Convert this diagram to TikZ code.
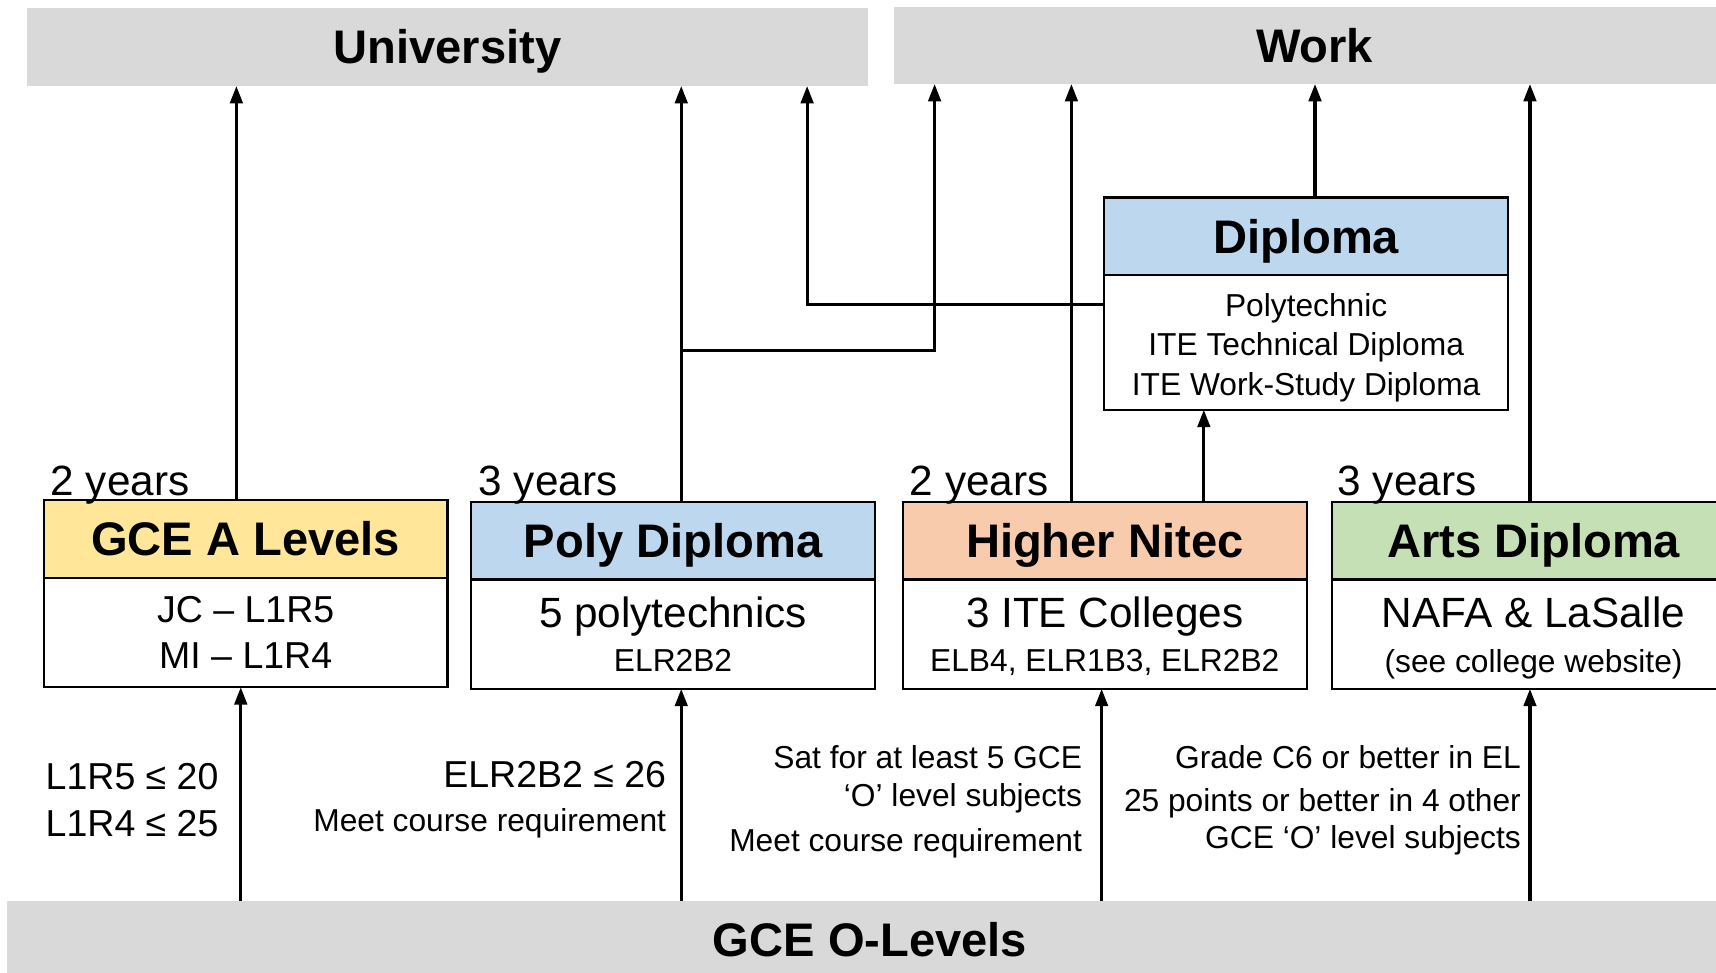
\documentclass[tikz,border=0pt]{standalone}
\usepackage{fontspec}
\setmainfont{Liberation Sans}
\usetikzlibrary{positioning,calc,arrows.meta}

\definecolor{barGray}{HTML}{D9D9D9}
\definecolor{aYellow}{HTML}{FFE699}
\definecolor{polyBlue}{HTML}{BDD7EE}
\definecolor{nitecOrange}{HTML}{F8CBAD}
\definecolor{artsGreen}{HTML}{C5E0B4}
\newcommand{\fsz}[2]{\fontsize{#1}{#2}\selectfont}

\begin{document}
\begin{tikzpicture}[x=0.02cm, y=-0.02cm,
		bar/.style={fill=barGray, inner sep=0pt, outer sep=0pt, text height=17.5pt, text depth=0pt, font=\fsz{24.5}{28}\bfseries},
		head/.style={draw, line width=1.2pt, inner sep=0pt, outer sep=0pt, minimum width=7.38cm, minimum height=1.42cm, text height=17.5pt, text depth=0pt, font=\fsz{24.5}{28}\bfseries},
		body/.style={draw, line width=1.2pt, inner sep=0pt, outer sep=0pt, minimum width=7.38cm, minimum height=2cm, align=center, text depth=0pt, fill=white},
		yrs/.style={anchor=base west, inner sep=0pt, font=\fsz{22}{26}},
		req/.style={anchor=east, align=right, inner sep=0pt},
		flow/.style={line width=1.6pt, -{Triangle[length=9pt,width=6.5pt]}}]
		\clip (0,0) rectangle (1568,889);

		% top and bottom bars
		\node[bar, minimum width=15.36cm, minimum height=1.42cm] (univ) at (409,43.1) {University};
		\node[bar, minimum width=15.39cm, minimum height=1.41cm] (work) at (1201.3,41.5) {Work};
		\node[bar, minimum width=31.56cm, minimum height=1.42cm] (olevel) at (795,859) {GCE O-Levels};

		% the four routes
		\node[head, fill=aYellow] (ahead) at (224.5,492.5) {GCE A Levels};
		\node[body, below=0pt of ahead, font=\fsz{19.5}{23.9}] (abody) {JC – L1R5\\MI – L1R4};

		\node[head, fill=polyBlue] (phead) at (615,494) {Poly Diploma};
		\node[body, below=0pt of phead, font=\fsz{22}{22.8}] (pbody) {5 polytechnics\\{\fsz{16.5}{22.8}ELR2B2}};

		\node[head, fill=nitecOrange] (nhead) at (1009.5,494) {Higher Nitec};
		\node[body, below=0pt of nhead, font=\fsz{22}{22.8}] (nbody) {3 ITE Colleges\\{\fsz{16.5}{22.8}ELB4, ELR1B3, ELR2B2}};

		\node[head, fill=artsGreen] (rhead) at (1401.3,494) {Arts Diploma};
		\node[body, below=0pt of rhead, font=\fsz{22}{23.4}] (rbody) {NAFA \& LaSalle\\{\fsz{16.5}{23.4}(see college website)}};

		\node[head, fill=polyBlue] (dhead) at (1193.5,216) {Diploma};
		\node[body, below=0pt of dhead, minimum height=2.46cm, text height=54.6pt, font=\fsz{16.5}{20.3}] (dbody) {Polytechnic\\ITE Technical Diploma\\ITE Work-Study Diploma};

		\node[yrs] (ayrs) at (46,453) {2 years};
		\node[yrs] (pyrs) at (437,453) {3 years};
		\node[yrs] (nyrs) at (831,453) {2 years};
		\node[yrs] (ryrs) at (1222,453) {3 years};

		% upward paths
		\draw[flow] (216,0 |- ahead.north) -- (216,0 |- univ.south);
		\draw[flow] (622.5,0 |- phead.north) -- (622.5,0 |- univ.south);
		\coordinate (pj) at (622.5,320.4);
		\draw[flow] (pj) -| (854,0 |- work.south);
		\draw[flow] ($(dbody.north west)+(0,27.1)$) -| (737.5,0 |- univ.south);
		\draw[flow] (979,0 |- nhead.north) -- (979,0 |- work.south);
		\draw[flow] (1100,0 |- nhead.north) -- (1100,0 |- dbody.south);
		\draw[flow] (1201.6,0 |- dhead.north) -- (1201.6,0 |- work.south);
		\draw[flow] (1398,0 |- rhead.north) -- (1398,0 |- work.south);

		% entry from O-Levels
		\draw[flow] (220,0 |- olevel.north) -- (220,0 |- abody.south);
		\draw[flow] (622.5,0 |- olevel.north) -- (622.5,0 |- pbody.south);
		\draw[flow] (1006.6,0 |- olevel.north) -- (1006.6,0 |- nbody.south);
		\draw[flow] (1398,0 |- olevel.north) -- (1398,0 |- rbody.south);

		\node[req, font=\fsz{19.5}{24.5}] (areq) at (200,731) {L1R5 ≤ 20\\L1R4 ≤ 25};
		\node[req, font=\fsz{19.5}{22.8}] (preq) at (609,731) {ELR2B2 ≤ 26\\{\fsz{16.5}{22.8}Meet course requirement}};
		\node[req, font=\fsz{16.5}{19.9}] (nreq) at (989,732.5) {Sat for at least 5 GCE\\‘O’ level subjects\\[3.4pt]Meet course requirement};
		\node[req, font=\fsz{16.5}{19.3}] (rreq) at (1390,731) {Grade C6 or better in EL\\[2.9pt]25 points or better in 4 other\\GCE ‘O’ level subjects};
\end{tikzpicture}
\end{document}
